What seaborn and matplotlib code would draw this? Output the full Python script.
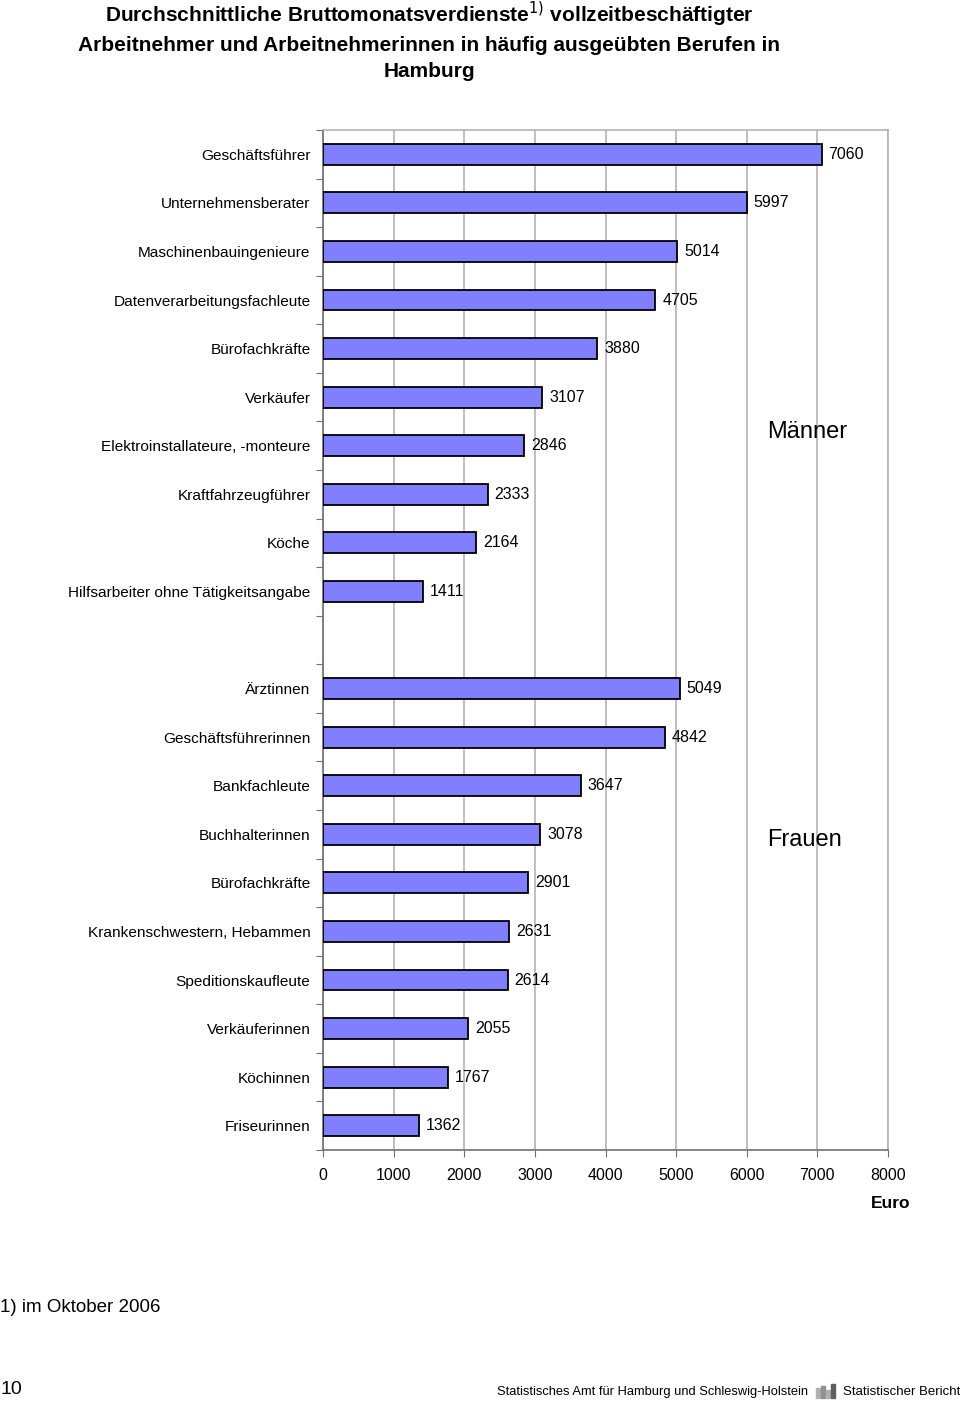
import matplotlib
matplotlib.use("Agg")
import matplotlib.pyplot as plt
import seaborn as sns
import pandas as pd
from matplotlib.ticker import FixedLocator, NullFormatter
from matplotlib.patches import Rectangle

men_jobs = ["Geschäftsführer", "Unternehmensberater", "Maschinenbauingenieure",
            "Datenverarbeitungsfachleute", "Bürofachkräfte", "Verkäufer",
            "Elektroinstallateure, -monteure", "Kraftfahrzeugführer", "Köche",
            "Hilfsarbeiter ohne Tätigkeitsangabe"]
men_values = [7060, 5997, 5014, 4705, 3880, 3107, 2846, 2333, 2164, 1411]

women_jobs = ["Ärztinnen", "Geschäftsführerinnen", "Bankfachleute", "Buchhalterinnen",
              "Bürofachkräfte", "Krankenschwestern, Hebammen", "Speditionskaufleute",
              "Verkäuferinnen", "Köchinnen", "Friseurinnen"]
women_values = [5049, 4842, 3647, 3078, 2901, 2631, 2614, 2055, 1767, 1362]

x_ticks = [0, 1000, 2000, 3000, 4000, 5000, 6000, 7000, 8000]

sns.set_theme(style="white")
plt.rcParams['font.family'] = ['Liberation Sans', 'DejaVu Sans']
plt.rcParams['text.color'] = 'black'
plt.rcParams['xtick.labelcolor'] = 'black'
plt.rcParams['ytick.labelcolor'] = 'black'

labels = men_jobs + [""] + women_jobs
keys = [f"k{i}" for i in range(len(labels))]
rows = []
for i, v in enumerate(men_values):
    rows.append({"key": keys[i], "value": v})
for i, v in enumerate(women_values):
    rows.append({"key": keys[len(men_values) + 1 + i], "value": v})
df = pd.DataFrame(rows)

fig = plt.figure(figsize=(9.6, 14.04), dpi=100)
ax = fig.add_axes([323/960, 1 - 1150/1404, 565/960, 1020/1404])

sns.barplot(data=df, x="value", y="key", order=keys, orient="h", ax=ax,
            color="#8080FF", saturation=1, width=0.43,
            edgecolor="black", linewidth=1.3, zorder=3)

ax.set_xlim(0, 8000)
ax.set_ylim(len(keys) - 0.5, -0.5)
ax.set_xticks(x_ticks)
ax.set_xticklabels([str(t) for t in x_ticks], fontsize=11.5)
ax.set_yticks(range(len(keys)))
ax.set_yticklabels(labels, fontsize=11.1)
ax.tick_params(axis="y", which="major", length=0, pad=9, labelcolor="black")
ax.yaxis.set_minor_locator(FixedLocator([i - 0.5 for i in range(len(keys) + 1)]))
ax.yaxis.set_minor_formatter(NullFormatter())
ax.tick_params(axis="y", which="minor", length=5, width=0.8, color="#707070", left=True)
ax.tick_params(axis="x", length=5, width=0.8, color="#707070", bottom=True, pad=8, labelcolor="black")
ax.set_xlabel("")
ax.set_ylabel("")
ax.grid(axis="x", color="#b4b4b4", linewidth=1.2, zorder=0)
ax.set_axisbelow(True)
for s in ["top", "right"]:
    ax.spines[s].set_color("#b4b4b4")
    ax.spines[s].set_linewidth(1.2)
for s in ["left", "bottom"]:
    ax.spines[s].set_color("#707070")
    ax.spines[s].set_linewidth(1.2)

for container in ax.containers:
    ax.bar_label(container, labels=[f"{int(w)}" for w in container.datavalues],
                 padding=5, fontsize=11.5, color="black")

ax.text(6290, 5.72, "Männer", fontsize=17, va="center", ha="left", zorder=5)
ax.text(6290, 14.12, "Frauen", fontsize=17, va="center", ha="left", zorder=5)

fig.text(429/960, 1 - 0/1404, "Durchschnittliche Bruttomonatsverdienste$^{1)}$ vollzeitbeschäftigter\n"
         "Arbeitnehmer und Arbeitnehmerinnen in häufig ausgeübten Berufen in\nHamburg",
         ha="center", va="top", fontsize=15, fontweight="bold", linespacing=1.45)

fig.text(910/960, 1 - 1204/1404, "Euro", ha="right", va="center", fontsize=12.5, fontweight="bold")
fig.text(0.0, 1 - 1308/1404, "1) im Oktober 2006", ha="left", va="center", fontsize=13.5)
fig.text(0.0, 1 - 1390/1404, "10", ha="left", va="center", fontsize=14)
fig.text(808/960, 1 - 1392/1404, "Statistisches Amt für Hamburg und Schleswig-Holstein",
         ha="right", va="center", fontsize=9.3)
fig.text(1.0, 1 - 1392/1404, "Statistischer Bericht", ha="right", va="center", fontsize=9.5)

# small logo
for xx, hh, cc in [(816, 10, "#b0b0b0"), (821, 12, "#909090"), (826, 8, "#b0b0b0"), (831, 14, "#606060")]:
    fig.patches.append(Rectangle((xx/960, 1 - 1398/1404), 4/960, hh/1404,
                                 transform=fig.transFigure, color=cc))

fig.savefig("out.png", dpi=100)
